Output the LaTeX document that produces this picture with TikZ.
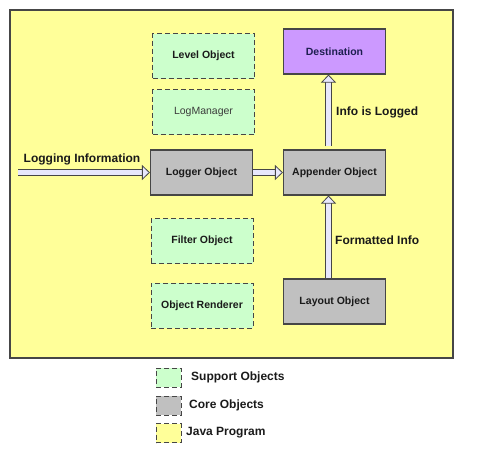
\documentclass[tikz,border=0pt]{standalone}
\usepackage{fontspec}
\setmainfont{Liberation Sans}
\definecolor{javayellow}{RGB}{255,255,153}
\definecolor{supportgreen}{RGB}{204,255,204}
\definecolor{coregray}{RGB}{192,192,192}
\definecolor{destpurple}{RGB}{204,153,255}
\definecolor{arrowfill}{RGB}{232,232,252}
\definecolor{edge}{RGB}{70,70,70}
\definecolor{ink}{RGB}{26,26,26}
\definecolor{destink}{RGB}{30,30,80}
\usetikzlibrary{arrows.meta}

\begin{document}
\begin{tikzpicture}[x=1pt,y=-1pt,
  box/.style={minimum width=102pt,minimum height=45pt,inner sep=0pt,
    text=ink,font=\bfseries\fontsize{10.5}{12}\selectfont},
  support/.style={box,draw=edge,line width=0.9pt,dash pattern=on 5pt off 3pt,fill=supportgreen},
  core/.style={box,draw=edge,line width=1.1pt,fill=coregray},
  keybox/.style={minimum width=25pt,minimum height=19pt,inner sep=0pt,
    draw=edge,line width=0.9pt,dash pattern=on 5pt off 3pt},
  label/.style={text=ink,font=\bfseries\fontsize{12}{14}\selectfont,inner sep=0pt},
  flow/.style={draw=edge,line width=0.8pt,double=arrowfill,double distance=5.5pt,
    -{Triangle[length=8pt,width=15pt,line width=0.8pt,fill=arrowfill]}}]
  \useasboundingbox (0,0) rectangle (490,453);

  % java program
  \node (java) [draw=edge,line width=1.1pt,fill=javayellow,minimum width=443pt,
    minimum height=348pt,inner sep=0pt] at (231.5,184) {};

  % support objects
  \node (level) [support] at (203.5,56) {Level Object};
  \node (mgr) [support,font=\fontsize{10.5}{12}\selectfont,text=ink!85] at (203.5,112) {LogManager};
  \node (filter) [support] at (202,241) {Filter Object};
  \node (render) [support] at (202,305.5) {Object Renderer};

  % core objects
  \node (logger) [core] at (201.5,172.5) {Logger Object};
  \node (appender) [core] at (334.5,172.5) {Appender Object};
  \node (layout) [core] at (334.5,301.5) {Layout Object};
  \node (dest) [box,draw=edge,line width=1.1pt,fill=destpurple,text=destink] at (334.5,51.5) {Destination};

  \coordinate (in) at (18,172.5);

  \draw [flow] (in) -- (logger.west);
  \draw [flow] (logger.east) -- (appender.west);
  \draw [flow,shorten <=3pt] ([xshift=-6pt]appender.north) -- ([xshift=-6pt]dest.south);
  \draw [flow] ([xshift=-6pt]layout.north) -- ([xshift=-6pt]appender.south);

  \node (l-in) [label] at (82,159) {Logging Information};
  \node (l-log) [label,anchor=west] at (336,112) {Info is Logged};
  \node (l-fmt) [label,anchor=west] at (335,240) {Formatted Info};

  % legend
  \node (k-sup) [keybox,fill=supportgreen] at (168.5,377.5) {};
  \node (k-core) [keybox,fill=coregray] at (168.5,405.5) {};
  \node (k-java) [keybox,fill=javayellow] at (168.5,433) {};
  \node [label,anchor=west] at (191,377) {Support Objects};
  \node [label,anchor=west] at (189,405) {Core Objects};
  \node [label,anchor=west] at (186,433) {Java Program};
\end{tikzpicture}
\end{document}
